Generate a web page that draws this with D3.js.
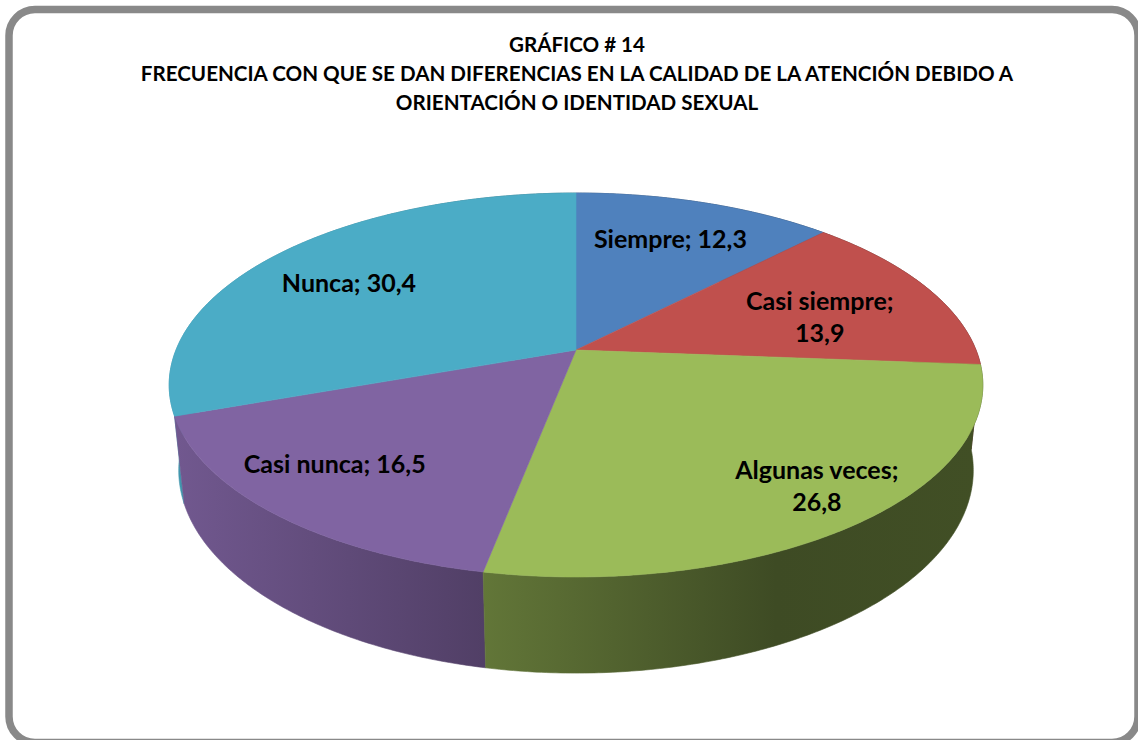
<!DOCTYPE html>
<html>
<head>
<meta charset="utf-8">
<script src="https://cdn.jsdelivr.net/npm/d3@7"></script>
<style>
  html, body { margin: 0; padding: 0; background: #fff; }
  svg { display: block; }
  text { font-family: Lato, "Open Sans", sans-serif; font-weight: bold; fill: #000; }
</style>
</head>
<body>
<svg id="chart" width="1138" height="740"></svg>
<script>
// data (Excel 3D pie, percentages)
const categories = ['Siempre', 'Casi siempre', 'Algunas veces', 'Casi nunca', 'Nunca'];
const values = [12.3, 13.9, 26.8, 16.5, 30.4];
const colors = ['#4f81bd', '#c0504d', '#9bbb59', '#8064a2', '#4bacc6'];
const titleLines = [
  'GRÁFICO # 14',
  'FRECUENCIA CON QUE SE DAN DIFERENCIAS EN LA CALIDAD DE LA ATENCIÓN DEBIDO A',
  'ORIENTACIÓN O IDENTIDAD SEXUAL'
];

// layout / look
const W = 1138, H = 740;
const cx = 576, cy = 350;        // where the slices meet
const S = 400;                   // radius on screen at mid depth
const persp = 0.2058;            // radius / camera distance
const tilt = Math.asin(0.464);   // camera elevation
const thick = 0.243;             // wall height / radius
const labelR = 0.7;
// Excel nudges its data labels a bit away from the plain centroid
const labelNudge = [[0, -3], [-7, 11], [52, 21], [-39, 5], [-14, 3]];
const labelWrap = [false, true, true, false, false];

const svg = d3.select('#chart');
const fmt = d3.formatLocale({ decimal: ',', thousands: '.', grouping: [3], currency: ['', ''] }).format('.1f');

// frame
svg.append('rect')
  .attr('x', 9).attr('y', 9.5)
  .attr('width', 1129).attr('height', 733)
  .attr('rx', 26)
  .attr('fill', '#fff')
  .attr('stroke', '#898989')
  .attr('stroke-width', 7.5);

// title
const title = svg.append('text')
  .attr('text-anchor', 'middle')
  .style('font-size', '20.6px');
titleLines.forEach((line, i) => {
  title.append('tspan')
    .attr('x', 577)
    .attr('y', 52 + i * 29)
    .text(line);
});

// projection of a point on the disc (theta clockwise from back, r in [0,1], level 0 top / 1 bottom)
function proj(theta, r, level) {
  const x = r * Math.sin(theta);
  const z = -r * Math.cos(theta);
  const y = -thick * level;
  const ys = z * Math.sin(tilt) - y * Math.cos(tilt);
  const dist = 1 - persp * (z * Math.cos(tilt) + y * Math.sin(tilt));
  return [cx + S * x / dist, cy + S * ys / dist];
}

function arcPoints(a0, a1, level) {
  const n = Math.max(2, Math.ceil((a1 - a0) / 0.01));
  return d3.range(n + 1).map(i => proj(a0 + (a1 - a0) * i / n, 1, level));
}

const pie = d3.pie().sort(null).value(d => d)(values);
const line = d3.line();

// wall shading, horizontal light falloff like Excel's default 3D lighting
const shade = d3.scaleLinear().domain([-1, -0.23, 0.5, 1]).range([0.88, 0.63, 0.40, 0.42]);
const defs = svg.append('defs');
pie.forEach((p, i) => {
  const g = defs.append('linearGradient')
    .attr('id', 'wall' + i)
    .attr('gradientUnits', 'userSpaceOnUse')
    .attr('x1', cx - S).attr('x2', cx + S).attr('y1', 0).attr('y2', 0);
  const base = d3.rgb(colors[i]);
  shade.domain().forEach(u => {
    const k = shade(u);
    g.append('stop')
      .attr('offset', (u + 1) / 2)
      .attr('stop-color', d3.rgb(base.r * k, base.g * k, base.b * k).formatHex());
  });
});

// walls, far ones first
const wallOrder = pie.map((p, i) => i)
  .sort((a, b) => Math.cos((pie[b].startAngle + pie[b].endAngle) / 2) - Math.cos((pie[a].startAngle + pie[a].endAngle) / 2));

svg.append('g').selectAll('path')
  .data(wallOrder)
  .join('path')
  .attr('d', i => {
    const p = pie[i];
    const top = arcPoints(p.startAngle, p.endAngle, 0);
    const bot = arcPoints(p.startAngle, p.endAngle, 1).reverse();
    return line(top.concat(bot)) + 'Z';
  })
  .attr('fill', i => `url(#wall${i})`)
  .attr('stroke', i => `url(#wall${i})`)
  .attr('stroke-width', 0.6);

// top faces
svg.append('g').selectAll('path')
  .data(pie)
  .join('path')
  .attr('d', p => line([proj(0, 0, 0)].concat(arcPoints(p.startAngle, p.endAngle, 0))) + 'Z')
  .attr('fill', (p, i) => colors[i])
  .attr('stroke', (p, i) => colors[i])
  .attr('stroke-width', 0.6);

// data labels
const labels = svg.append('g')
  .attr('text-anchor', 'middle')
  .style('font-size', '25px');
pie.forEach((p, i) => {
  const [x0, y0] = proj((p.startAngle + p.endAngle) / 2, labelR, 0);
  const x = x0 + labelNudge[i][0];
  const y = y0 + labelNudge[i][1];
  const t = labels.append('text');
  if (labelWrap[i]) {
    t.append('tspan').attr('x', x).attr('y', y - 7).text(categories[i] + ';');
    t.append('tspan').attr('x', x).attr('y', y + 25).text(fmt(values[i]));
  } else {
    t.append('tspan').attr('x', x).attr('y', y + 9).text(`${categories[i]}; ${fmt(values[i])}`);
  }
});
</script>
</body>
</html>
